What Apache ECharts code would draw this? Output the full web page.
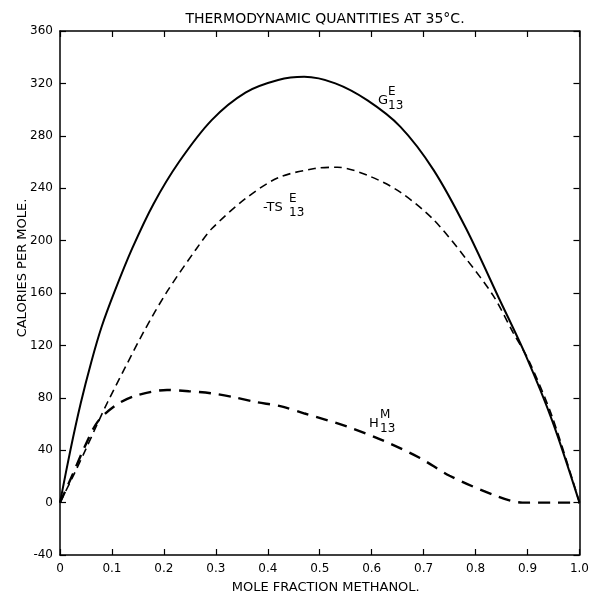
<!DOCTYPE html>
<html>
<head>
<meta charset="utf-8">
<script src="https://cdn.jsdelivr.net/npm/echarts@6/dist/echarts.min.js"></script>
<style>html,body{margin:0;padding:0;background:#fff}#c{width:592px;height:599px}</style>
</head>
<body>
<div id="c"></div>
<script>
// Data
var xTicks = [0, 0.1, 0.2, 0.3, 0.4, 0.5, 0.6, 0.7, 0.8, 0.9, 1.0];
var yTicks = [-40, 0, 40, 80, 120, 160, 200, 240, 280, 320, 360];

var gX = [0, 0.02, 0.04, 0.06, 0.08, 0.105, 0.139, 0.18, 0.229, 0.292, 0.357, 0.42, 0.47, 0.53, 0.592, 0.655, 0.719, 0.782, 0.845, 0.897, 0.948, 1.0];
var gY = [0, 40, 76, 107, 134, 161, 194, 228, 260, 292, 313, 322.6, 325, 320, 307, 287, 254, 209, 156, 112, 62, 0];

var tsX = [0, 0.025, 0.05, 0.073, 0.092, 0.124, 0.162, 0.206, 0.263, 0.292, 0.357, 0.42, 0.49, 0.534, 0.597, 0.655, 0.719, 0.782, 0.834, 0.872, 0.903, 0.948, 1.0];
var tsY = [0, 20, 41, 61, 77, 102, 131, 161, 194, 209, 232, 248, 255, 256, 249, 237, 216, 186, 158, 130, 108, 65, 0];

var hX = [0, 0.025, 0.048, 0.073, 0.11, 0.149, 0.206, 0.248, 0.29, 0.334, 0.378, 0.424, 0.471, 0.553, 0.624, 0.693, 0.75, 0.834, 0.89, 0.95, 1.0];
var hY = [0, 22, 43, 62, 75, 82, 86, 85, 83.5, 80.5, 76.7, 73.6, 68, 58, 47, 34, 20.5, 6, 0, 0, 0];

function pairs(xs, ys) { return xs.map(function (x, i) { return [x, ys[i]]; }); }

var FONT = 'DejaVu Sans';
var chart = echarts.init(document.getElementById('c'));

function xAxisCfg(pos, showLabels) {
  return {
    type: 'value', position: pos, min: 0, max: 1, interval: 0.1,
    axisLine: { show: true, onZero: false, lineStyle: { color: '#000', width: 1.5 } },
    axisTick: { show: true, inside: true, length: 6, lineStyle: { color: '#000', width: 1.2 } },
    axisLabel: {
      show: showLabels, margin: 8, color: '#000', fontFamily: FONT, fontSize: 12,
      formatter: function (v) { var r = Math.round(v * 10) / 10; return r === 0 ? '0' : r.toFixed(1); }
    },
    splitLine: { show: false }
  };
}
function yAxisCfg(pos, showLabels) {
  return {
    type: 'value', position: pos, min: -40, max: 360, interval: 40,
    axisLine: { show: true, onZero: false, lineStyle: { color: '#000', width: 1.5 } },
    axisTick: { show: true, inside: true, length: 6, lineStyle: { color: '#000', width: 1.2 } },
    axisLabel: { show: showLabels, margin: 7, color: '#000', fontFamily: FONT, fontSize: 12 },
    splitLine: { show: false }
  };
}

function subLabel(main, sup, sub, x, y, dx) {
  return {
    type: 'group', left: x, top: y,
    children: [
      { type: 'text', x: 0, y: 6, style: { text: main, font: '13px ' + FONT, fill: '#000' } },
      { type: 'text', x: dx, y: -2, style: { text: sup, font: '12px ' + FONT, fill: '#000' } },
      { type: 'text', x: dx, y: 12, style: { text: sub, font: '12px ' + FONT, fill: '#000' } }
    ]
  };
}

chart.setOption({
  backgroundColor: '#fff',
  animation: false,
  title: {
    text: 'THERMODYNAMIC QUANTITIES AT 35°C.',
    left: 320, top: 7, textAlign: 'center',
    textStyle: { fontFamily: FONT, fontSize: 14, fontWeight: 'normal', color: '#000' }
  },
  grid: { left: 60, right: 8, top: 31, bottom: 41 },
  xAxis: [
    Object.assign(xAxisCfg('bottom', true), {
      name: 'MOLE FRACTION METHANOL.', nameLocation: 'middle', nameGap: 26,
      nameTextStyle: { fontFamily: FONT, fontSize: 13, color: '#000', padding: [0, 0, 0, 12] }
    }),
    xAxisCfg('top', false)
  ],
  yAxis: [yAxisCfg('left', true), yAxisCfg('right', false)],
  graphic: [
    {
      type: 'text', x: 23, y: 268, rotation: Math.PI / 2,
      style: { text: 'CALORIES PER MOLE.', font: '13px ' + FONT, fill: '#000', align: 'center', verticalAlign: 'middle' }
    },
    subLabel('G', 'E', '13', 378, 86, 10),
    subLabel('-TS', 'E', '13', 263, 193, 26),
    subLabel('H', 'M', '13', 369, 409, 11)
  ],
  series: [
    {
      name: 'G', type: 'line', data: pairs(gX, gY), smooth: 0.3, symbol: 'none',
      lineStyle: { color: '#000', width: 2, type: 'solid' }
    },
    {
      name: 'TS', type: 'line', data: pairs(tsX, tsY), smooth: 0.3, symbol: 'none',
      lineStyle: { color: '#000', width: 1.6, type: [8, 5] }
    },
    {
      name: 'H', type: 'line', data: pairs(hX, hY), smooth: 0.3, symbol: 'none',
      lineStyle: { color: '#000', width: 2.4, type: [12, 8] }
    }
  ]
});
</script>
</body>
</html>
